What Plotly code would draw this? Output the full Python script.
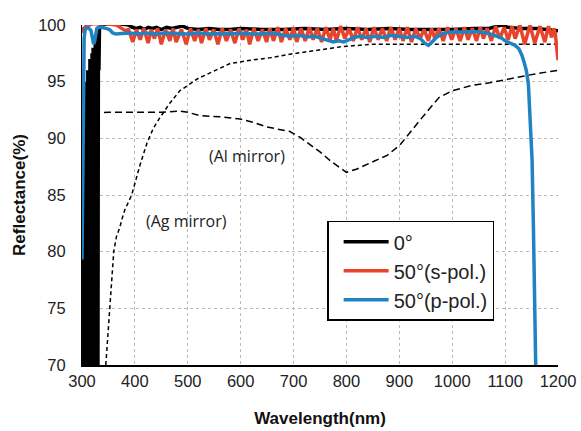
import plotly.graph_objects as go

# ---------------- data ----------------
black_x = [300, 301, 302, 303, 304, 305, 306, 307, 308, 309, 310, 311, 312, 313, 314, 315, 316, 317,
           318, 319, 320, 321, 322, 323, 324, 325, 326, 327, 328, 329, 330, 331, 332, 333, 334, 336,
           350, 370, 388, 395, 402, 410, 418, 425, 433, 441, 450, 460, 470, 480, 490, 500, 520, 540,
           560, 580, 600, 640, 680, 720, 760, 800, 840, 880, 920, 960, 1000, 1040, 1070, 1085, 1095,
           1105, 1130, 1160, 1185, 1200]
black_y = [65, 90, 65, 92, 65, 93, 65, 94, 65, 95, 65, 96, 65, 96, 65, 97, 65, 97,
           81, 97.5, 81, 98, 65, 98, 65, 98.5, 88, 99, 88, 99, 65, 99.3, 96, 99.6, 99.8, 100,
           100.1, 100.1, 100.0, 99.8, 99.7, 99.8, 99.6, 99.8, 99.7, 99.8, 99.6, 99.8, 99.7, 99.8, 99.9, 99.7, 99.6, 99.7,
           99.6, 99.6, 99.7, 99.6, 99.6, 99.7, 99.6, 99.7, 99.6, 99.7, 99.6, 99.6, 99.6, 99.7, 99.7, 99.9, 100.0,
           99.8, 99.7, 99.7, 99.6, 99.5]

red_x = [300, 303, 308, 320, 345, 365, 375, 382, 388, 396, 403, 410, 417, 425, 431, 437, 443, 450, 458,
         466, 472, 478, 488, 497, 505, 513, 520, 526, 534, 541, 549, 557, 565, 573, 581, 589, 597, 604,
         611, 617, 625, 633, 641, 649, 655, 662, 670, 677, 685, 693, 700, 706, 714, 722, 730, 737, 745,
         753, 761, 769, 775, 781, 789, 797, 805, 813, 821, 829, 837, 844, 852, 860, 868, 876, 884, 892,
         900, 907, 915, 923, 931, 939, 947, 955, 961, 967, 975, 983, 991, 999, 1007, 1015, 1023, 1030,
         1038, 1046, 1053, 1059, 1066, 1074, 1082, 1090, 1098, 1106, 1113, 1119, 1128, 1137, 1147, 1156,
         1166, 1175, 1182, 1188, 1192, 1195, 1198, 1200]
red_y = [99.3, 99.7, 99.9, 100.1, 100.1, 100.0, 99.7, 99.5, 99.6, 98.5, 99.6, 98.7, 99.7, 98.4, 99.6, 98.8, 99.7, 98.3, 99.6,
         98.6, 99.7, 98.5, 99.6, 98.3, 99.7, 98.6, 99.6, 98.4, 99.7, 98.7, 99.6, 98.3, 99.7, 98.6, 99.6, 98.4, 99.7, 98.7,
         99.6, 98.3, 99.7, 98.6, 99.6, 98.5, 99.7, 98.6, 99.8, 98.5, 99.7, 98.7, 99.8, 98.5, 99.7, 98.6, 99.8, 98.7, 99.7,
         98.5, 99.8, 98.7, 99.7, 98.6, 99.9, 98.8, 99.7, 98.6, 99.8, 98.7, 99.7, 98.5, 99.8, 98.7, 99.7, 98.6, 99.8, 98.7,
         99.7, 98.6, 99.8, 98.5, 99.7, 98.8, 99.6, 98.6, 99.7, 98.8, 99.7, 98.6, 99.8, 98.7, 99.7, 98.6, 99.8, 98.7,
         99.7, 98.6, 99.8, 98.8, 99.7, 98.6, 99.9, 98.8, 99.8, 98.7, 99.9, 98.8, 100.0, 98.3, 100.0, 98.4,
         99.9, 98.5, 99.9, 98.9, 99.7, 99.2, 97.8, 96.9]

blue_x = [300, 301, 302, 303, 304, 306, 309, 313, 317, 320, 322, 324, 326, 328, 331, 336, 345, 352, 358,
          364, 375, 390, 405, 420, 440, 460, 480, 500, 520, 540, 560, 580, 600, 620, 640, 660, 680, 695,
          710, 725, 740, 755, 765, 775, 785, 795, 805, 815, 825, 840, 855, 870, 885, 900, 915, 930, 940,
          948, 955, 962, 970, 980, 992, 1005, 1020, 1037, 1050, 1065, 1081, 1092, 1100, 1110, 1119, 1126,
          1132, 1136, 1140, 1144, 1148, 1151, 1153.5, 1156, 1158, 1160]
blue_y = [79.3, 84, 90, 95.5, 98.8, 99.6, 99.8, 99.7, 99.5, 98.8, 98.3, 98.6, 99.4, 99.7, 99.8, 99.8, 99.7, 99.6, 99.3,
          99.2, 99.25, 99.3, 99.2, 99.3, 99.2, 99.3, 99.25, 99.2, 99.3, 99.2, 99.25, 99.2, 99.3, 99.2, 99.2, 99.3, 99.1, 99.0,
          99.1, 98.95, 99.0, 98.8, 98.6, 98.5, 98.6, 98.5, 98.7, 98.9, 99.0, 98.9, 99.0, 98.9, 99.1, 99.0, 98.9, 99.0, 98.8,
          98.4, 98.2, 98.5, 98.9, 99.2, 99.35, 99.4, 99.35, 99.4, 99.4, 99.3, 99.1, 98.9, 98.6, 98.4, 98.2, 97.9,
          97.3, 96.7, 96.0, 94.8, 91.5, 88.1, 82.2, 74.0, 68.0, 64.0]

al_x = [300, 350, 400, 450, 485, 500, 523, 560, 599, 625, 650, 675, 693, 712, 730, 750, 770, 793, 800,
        820, 839, 858, 877, 901, 926, 939, 955, 975, 1000, 1015, 1040, 1071, 1103, 1147, 1185, 1200]
al_y = [92.2, 92.3, 92.3, 92.3, 92.4, 92.3, 92.0, 91.9, 91.7, 91.4, 91.0, 90.8, 90.6, 90.1, 89.5, 88.8, 88.0, 87.2, 87.0,
        87.3, 87.7, 88.1, 88.5, 89.4, 90.9, 91.6, 92.5, 93.6, 94.2, 94.4, 94.7, 94.9, 95.2, 95.6, 95.9, 96.0]

ag_x = [345, 349, 353, 357, 360, 365, 372, 375, 381, 394, 410, 423, 435, 447, 466, 485, 500, 520, 548,
        580, 620, 655, 690, 750, 793, 850, 900, 950, 1000, 1050, 1100, 1150, 1200]
ag_y = [70.0, 72.5, 75.0, 77.5, 80.0, 81.3, 82.2, 82.8, 83.7, 85.0, 87.7, 89.6, 90.9, 91.8, 93.1, 94.2, 94.7, 95.3, 95.9,
        96.6, 96.9, 97.1, 97.4, 97.8, 98.1, 98.3, 98.3, 98.3, 98.3, 98.3, 98.3, 98.3, 98.3]

x_ticks = [300, 400, 500, 600, 700, 800, 900, 1000, 1100, 1200]
y_ticks = [70, 75, 80, 85, 90, 95, 100]

series_names = ["0°", "50°(s-pol.)", "50°(p-pol.)"]
labels_mirror = ["(Al mirror)", "(Ag mirror)"]

# ---------------- figure ----------------
fig = go.Figure()
fig.add_trace(go.Scatter(x=al_x, y=al_y, mode="lines", showlegend=False,
                         line=dict(color="black", width=1.5, dash="7px,4px")))
fig.add_trace(go.Scatter(x=ag_x, y=ag_y, mode="lines", showlegend=False,
                         line=dict(color="black", width=1.5, dash="4px,3px")))
fig.add_trace(go.Scatter(x=black_x, y=black_y, mode="lines", name=series_names[0], legendgroup="a",
                         line=dict(color="black", width=3.5)))
fig.add_trace(go.Scatter(x=red_x, y=red_y, mode="lines", name=series_names[1], legendgroup="b",
                         line=dict(color="#E8432B", width=3.5)))
fig.add_trace(go.Scatter(x=blue_x, y=blue_y, mode="lines", name=series_names[2], legendgroup="c",
                         line=dict(color="#1F82C2", width=3.5)))

fig.add_annotation(x=612, y=88.4, xref="x", yref="y", text=labels_mirror[0], showarrow=False,
                   font=dict(family="Open Sans", size=16, color="#222"))
fig.add_annotation(x=498, y=82.7, xref="x", yref="y", text=labels_mirror[1], showarrow=False,
                   font=dict(family="Open Sans", size=16, color="#222"))

fig.update_layout(
    width=581, height=431,
    margin=dict(l=82, r=23, t=25, b=66, autoexpand=False),
    plot_bgcolor="white", paper_bgcolor="white",
    font=dict(family="Liberation Sans, Arial", size=16.5, color="#222"),
    legend=dict(x=0.515, y=0.424, xanchor="left", yanchor="top",
                bgcolor="white", bordercolor="black", borderwidth=1.5, indentation=10,
                font=dict(size=20, color="#222"), tracegroupgap=0, itemwidth=45),
)
fig.update_xaxes(range=[300, 1200], tickvals=x_ticks, showgrid=True, gridcolor="#BBBBBB",
                 griddash="dot", gridwidth=1, showline=True, linecolor="black", linewidth=1.5,
                 ticks="", zeroline=False, tickfont=dict(size=16.5), automargin=False,
                 title=dict(text="Wavelength(nm)", font=dict(size=17, weight="bold", color="#111"), standoff=24))
fig.update_yaxes(range=[70, 100], tickvals=y_ticks, showgrid=True, gridcolor="#BBBBBB",
                 griddash="dot", gridwidth=1, showline=True, linecolor="black", linewidth=1,
                 ticks="", zeroline=False, tickfont=dict(size=16.5), automargin=False,
                 ticklabelstandoff=12,
                 title=dict(text="Reflectance(%)", font=dict(size=17, weight="bold", color="#111"), standoff=8))

fig.write_html("out.html")
